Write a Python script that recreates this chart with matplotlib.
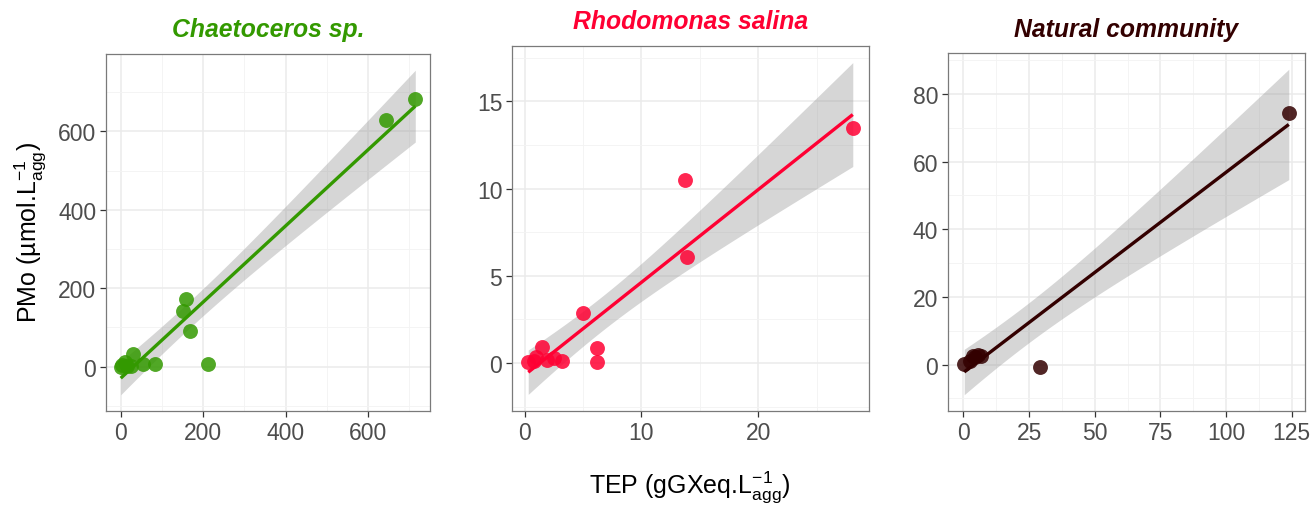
import numpy as np
import matplotlib
matplotlib.use("Agg")
import matplotlib.pyplot as plt
from math import gamma, sqrt, pi

plt.rcParams["font.family"] = ["Liberation Sans", "DejaVu Sans"]
plt.rcParams["mathtext.fontset"] = "custom"
plt.rcParams["mathtext.rm"] = "Liberation Sans"
plt.rcParams["mathtext.it"] = "Liberation Sans:italic"

# ---- data -------------------------------------------------------------
chaeto_tep = [0, 4, 10, 15, 26, 31, 55, 84, 151, 158, 168, 213, 645, 715]
chaeto_pmo = [0, 5, 13, 3, 3, 33, 8, 8, 141, 172, 91, 8, 630, 683]

rhodo_tep = [0.3, 0.8, 1.0, 1.5, 1.9, 2.5, 3.2, 5.0, 6.15, 6.15, 13.7, 13.9, 28.1]
rhodo_pmo = [0.06, 0.1, 0.35, 0.9, 0.2, 0.28, 0.1, 2.9, 0.85, 0.06, 10.5, 6.07, 13.5]

natural_tep = [0.3, 2.5, 3.5, 4.5, 5.5, 6.5, 29.2, 123.9]
natural_pmo = [0.3, 1.0, 2.5, 2.2, 2.8, 2.6, -0.6, 74.3]

titles = ["Chaetoceros sp.", "Rhodomonas salina", "Natural community"]
colors = ["#339900", "#ff0033", "#330000"]

x_ticks = [[0, 200, 400, 600], [0, 10, 20], [0, 25, 50, 75, 100, 125]]
y_ticks = [[0, 200, 400, 600], [0, 5, 10, 15], [0, 20, 40, 60, 80]]


def t_quantile(p, df):
    """Quantile of Student's t distribution by numerical integration."""
    c = gamma((df + 1) / 2) / (sqrt(df * pi) * gamma(df / 2))
    xs = np.linspace(0, 20, 200001)
    pdf = c * (1 + xs ** 2 / df) ** (-(df + 1) / 2)
    cdf = 0.5 + np.concatenate([[0], np.cumsum((pdf[1:] + pdf[:-1]) / 2 * np.diff(xs))])
    return float(np.interp(p, cdf, xs))


def lm_band(x, y, npts=200):
    x = np.asarray(x, float)
    y = np.asarray(y, float)
    n = len(x)
    b, a = np.polyfit(x, y, 1)
    resid = y - (a + b * x)
    s = sqrt(np.sum(resid ** 2) / (n - 2))
    xbar = x.mean()
    sxx = np.sum((x - xbar) ** 2)
    xg = np.linspace(x.min(), x.max(), npts)
    yg = a + b * xg
    se = s * np.sqrt(1 / n + (xg - xbar) ** 2 / sxx)
    t = t_quantile(0.975, n - 2)
    return xg, yg, yg - t * se, yg + t * se


W, H = 1316, 506
fig = plt.figure(figsize=(W / 100, H / 100), dpi=100)

# axes boxes in pixels: left, right, top, bottom
boxes = [(106, 430, 55, 412), (512, 869, 47, 412), (948, 1305, 54, 412)]
title_y = [30, 22, 30]
datasets = [(chaeto_tep, chaeto_pmo), (rhodo_tep, rhodo_pmo), (natural_tep, natural_pmo)]

for i, ((l, r, t, b), (xv, yv)) in enumerate(zip(boxes, datasets)):
    ax = fig.add_axes([l / W, (H - b) / H, (r - l) / W, (b - t) / H])
    xg, yg, lo, hi = lm_band(xv, yv)
    ax.fill_between(xg, lo, hi, color="#999999", alpha=0.4, lw=0, zorder=2)
    ax.scatter(xv, yv, s=115, color=colors[i], alpha=0.85, lw=0, zorder=3)
    ax.plot(xg, yg, color=colors[i], lw=2.4, zorder=4, solid_capstyle="butt")

    # ggplot-like 5% expansion including the ribbon
    xmin, xmax = min(xv), max(xv)
    ymin = min(min(yv), lo.min())
    ymax = max(max(yv), hi.max())
    dx = (xmax - xmin) * 0.05
    dy = (ymax - ymin) * 0.05

    xt = x_ticks[i]
    yt = y_ticks[i]
    ax.set_xticks(xt)
    ax.set_yticks(yt)
    xs = xt[1] - xt[0]
    ys = yt[1] - yt[0]
    ax.set_xticks(np.arange(xt[0] - xs / 2, xt[-1] + xs, xs), minor=True)
    ax.set_yticks(np.arange(yt[0] - ys / 2, yt[-1] + ys, ys), minor=True)
    ax.set_xlim(xmin - dx, xmax + dx)
    ax.set_ylim(ymin - dy, ymax + dy)

    ax.grid(True, which="major", color="#ebebeb", lw=1.1, zorder=0)
    ax.grid(True, which="minor", color="#f3f3f3", lw=0.6, zorder=0)
    ax.set_axisbelow(True)
    ax.tick_params(which="major", direction="out", length=4, width=0.9,
                   color="#333333", labelsize=16.5, labelcolor="#4d4d4d", pad=3)
    ax.tick_params(which="minor", length=0)
    for sp in ax.spines.values():
        sp.set_color("#7a7a7a")
        sp.set_linewidth(0.9)

    fig.text((l + r) / 2 / W, 1 - title_y[i] / H, titles[i], ha="center", va="center",
             fontsize=17.8, fontweight="bold", fontstyle="italic", color=colors[i])

fig.text(30 / W, 1 - 232 / H, r"PMo (µmol.L$_{\mathrm{agg}}^{-1}$)", rotation=90,
         ha="center", va="center", fontsize=18, color="black")
fig.text(690 / W, 1 - 487 / H, r"TEP (gGXeq.L$_{\mathrm{agg}}^{-1}$)",
         ha="center", va="center", fontsize=18, color="black")

fig.savefig("out.png", dpi=100)
